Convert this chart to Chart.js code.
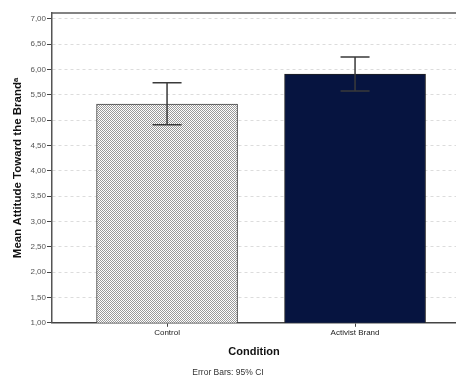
<!DOCTYPE html>
<html>
<head>
<meta charset="utf-8">
<script src="https://cdn.jsdelivr.net/npm/chart.js@4"></script>
<style>
  html, body { margin: 0; padding: 0; background: #fff; }
  #wrap { width: 456px; height: 380px; }
</style>
</head>
<body>
<div id="wrap"><canvas id="chart"></canvas></div>
<script>
// data
const categories = ['Control', 'Activist Brand'];
const means = [5.32, 5.91];
const ciLow = [4.91, 5.58];
const ciHigh = [5.74, 6.25];

// fine dotted fill for the Control bar
function dotPattern() {
    const c = document.createElement('canvas');
    c.width = 2; c.height = 2;
    const g = c.getContext('2d');
    g.fillStyle = '#ffffff';
    g.fillRect(0, 0, 2, 2);
    g.fillStyle = '#9a9a9a';
    g.fillRect(0, 0, 1, 1);
    g.fillRect(1, 1, 1, 1);
    return g.createPattern(c, 'repeat');
}

// error bars + top frame line
const errorBars = {
    id: 'errorBars',
    afterDatasetsDraw(chart) {
        const ctx = chart.ctx;
        const y = chart.scales.y;
        const meta = chart.getDatasetMeta(0);
        ctx.save();
        ctx.strokeStyle = '#3a3a3a';
        ctx.lineWidth = 1.5;
        meta.data.forEach((bar, i) => {
            const x = bar.x;
            const top = y.getPixelForValue(ciHigh[i]);
            const bot = y.getPixelForValue(ciLow[i]);
            ctx.beginPath();
            ctx.moveTo(x, top); ctx.lineTo(x, bot);
            ctx.moveTo(x - 14.5, top); ctx.lineTo(x + 14.5, top);
            ctx.moveTo(x - 14.5, bot); ctx.lineTo(x + 14.5, bot);
            ctx.stroke();
        });
        const a = chart.chartArea;
        ctx.strokeStyle = '#5a5a5a';
        ctx.beginPath();
        ctx.moveTo(a.left, a.top);
        ctx.lineTo(a.right, a.top);
        ctx.stroke();
        ctx.restore();
    }
};

const chartData = {
    type: 'bar',
    data: {
        datasets: [{
            data: means.map((v, i) => ({x: i, y: v})),
            backgroundColor: [dotPattern(), '#061440'],
            borderColor: ['#444444', '#222222'],
            borderWidth: 1,
            barThickness: 141
        }]
    },
    options: {
        responsive: true,
        maintainAspectRatio: false,
        animation: false,
        layout: { padding: { top: 13, right: 0, bottom: 0, left: 0 } },
        plugins: {
            legend: { display: false },
            tooltip: { enabled: false },
            subtitle: {
                display: true,
                position: 'bottom',
                text: 'Error Bars: 95% CI',
                color: '#333',
                font: { family: 'Liberation Sans', size: 8.5, weight: 'normal' },
                padding: { top: 6, bottom: 2 }
            }
        },
        scales: {
            x: {
                type: 'linear',
                offset: false,
                min: -0.612,
                max: 1.537,
                afterBuildTicks: (scale) => { scale.ticks = [{value: 0}, {value: 1}]; },
                afterFit: (scale) => { scale.height = 39; },
                ticks: {
                    callback: (v) => categories[v],
                    color: '#222',
                    font: { family: 'Liberation Sans', size: 8 },
                    padding: 1,
                    maxRotation: 0
                },
                grid: { offset: false, drawOnChartArea: false, tickLength: 4, color: '#444', lineWidth: 1 },
                border: { display: true, color: '#444', width: 1.5 },
                title: {
                    display: true,
                    text: 'Condition',
                    color: '#111',
                    font: { family: 'Liberation Sans', size: 11, weight: 'bold' },
                    padding: { top: 0, bottom: 3.4 }
                }
            },
            y: {
                min: 1,
                max: 7.118,
                afterFit: (scale) => { scale.width = 52; },
                ticks: {
                    stepSize: 0.5,
                    includeBounds: false,
                    callback: (v) => v.toFixed(2).replace('.', ','),
                    color: '#555',
                    font: { family: 'Liberation Sans', size: 8 },
                    padding: 1
                },
                grid: { color: '#dcdcdc', tickColor: '#444', tickLength: 5, lineWidth: 1 },
                border: { display: true, color: '#555', width: 1.5, dash: [3, 3] },
                title: {
                    display: true,
                    text: 'Mean Attitude Toward the Brandᵃ',
                    color: '#111',
                    font: { family: 'Liberation Sans', size: 11.5, weight: 'bold' },
                    padding: { top: 11.1, bottom: 0 }
                }
            }
        }
    },
    plugins: [errorBars]
};

const chart = new Chart(document.getElementById('chart'), chartData);
</script>
</body>
</html>
